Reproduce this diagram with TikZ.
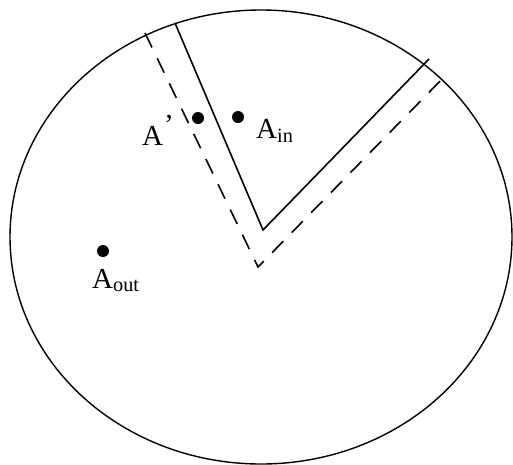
\documentclass[tikz,border=0pt]{standalone}
\usepackage{fontspec}
\setmainfont{Liberation Serif}
\usetikzlibrary{positioning}

\begin{document}
\begin{tikzpicture}[
    x=1pt, y=-1pt,
    font=\fontsize{29}{33}\selectfont,
    dot/.style={circle, fill=black, inner sep=0pt, minimum size=12pt},
    lab/.style={inner sep=0pt, anchor=base west},
    wall/.style={line width=1.6pt},
    shadow/.style={line width=1.6pt, dash pattern=on 16pt off 12pt},
  ]
    \useasboundingbox (0,0) rectangle (513,464);
    % --- domain --------------------------------------------------------------
    \coordinate (ctr) at (261,237);
    \draw[line width=1.4pt] (ctr) ellipse [x radius=251, y radius=227];
    % --- solid wedge ---------------------------------------------------------
    \coordinate (v)  at (263,230);
    \coordinate (s1) at (175,23);
    \coordinate (s2) at (429,59);
    \draw[wall] (s1) -- (v) -- (s2);
    % --- dashed wedge --------------------------------------------------------
    \coordinate (w)  at (258,267);
    \coordinate (d1) at (145,33);
    \coordinate (d2) at (447,74);
    \draw[shadow] (d1) -- (w) -- (d2);
    % --- points --------------------------------------------------------------
    \node[dot] (ap)   at (198,118) {};
    \node[dot] (ain)  at (238,117) {};
    \node[dot] (aout) at (103,251) {};
    \node[lab] (lap)   at (142,145) {A\kern1pt\raisebox{0.36em}{'}};
    \node[lab] (lain)  at (256,138) {A\textsubscript{in}};
    \node[lab] (laout) at (92,288)  {A\textsubscript{out}};
  \end{tikzpicture}
\end{document}
